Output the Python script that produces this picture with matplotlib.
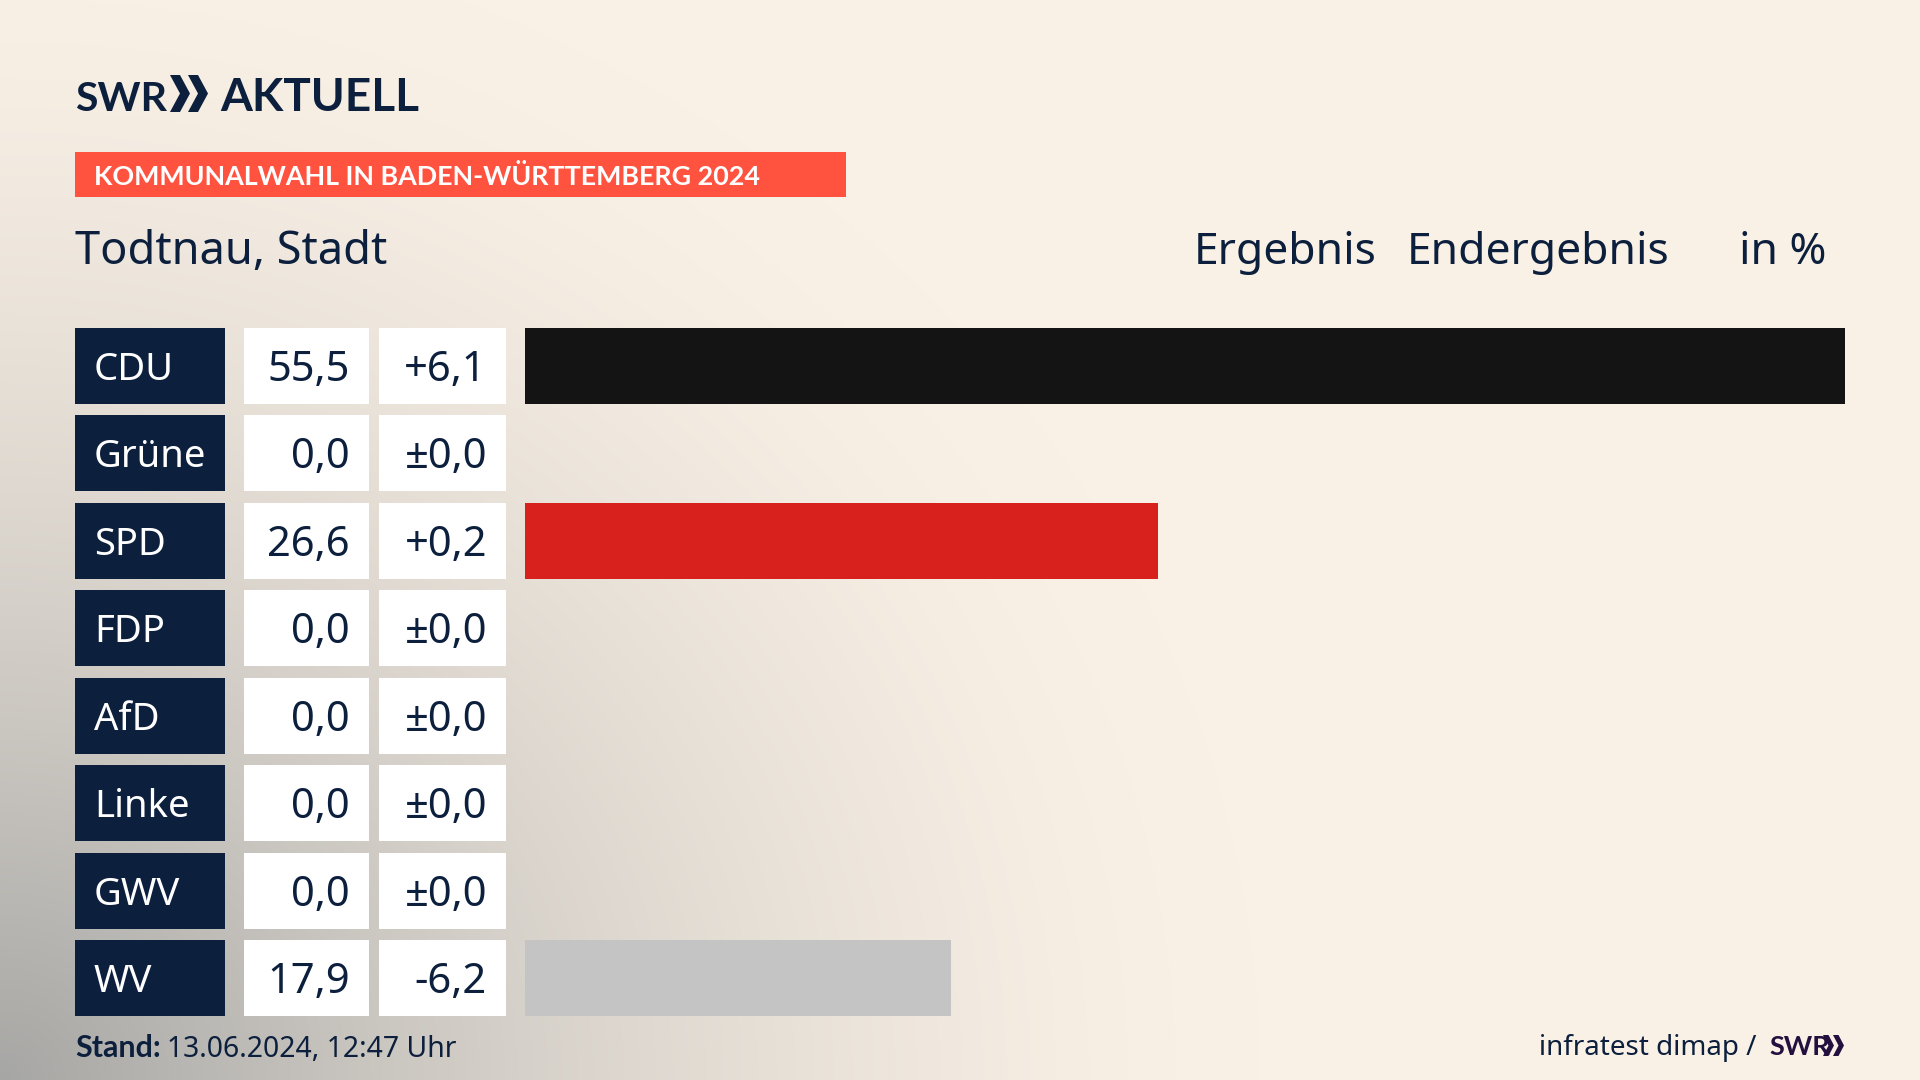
import numpy as np
from matplotlib import pyplot as plt
from matplotlib.patches import Polygon, Rectangle

parties = ["CDU", "Grüne", "SPD", "FDP", "AfD", "Linke", "GWV", "WV"]
results = [55.5, 0.0, 26.6, 0.0, 0.0, 0.0, 0.0, 17.9]
changes = [6.1, 0.0, 0.2, 0.0, 0.0, 0.0, 0.0, -6.2]
bar_colors = ["#141414", "#1E7A32", "#D8201C", "#F5C400", "#1C9ADB", "#C0246E", "#8A8A8A", "#C4C4C4"]

NAVY = "#0C1F3D"
ROW_TOP = 328
ROW_H = 76
ROW_PITCH = 87.43
FONT = ["Noto Sans", "DejaVu Sans"]
BOLD = ["Lato", "DejaVu Sans"]


def fmt_result(v):
    return f"{v:.1f}".replace(".", ",")


def fmt_change(v):
    if v == 0:
        return "±0,0"
    return f"{v:+.1f}".replace(".", ",")


def background():
    y, x = np.mgrid[0:1080, 0:1920]
    d = np.sqrt((x / 1260) ** 2 + ((1080 - y) / 1160) ** 2)
    t = np.clip(1 - d, 0, 1) ** 1.55
    cream = np.array([250, 241, 230])
    gray = np.array([166, 166, 164])
    return (cream + (gray - cream) * t[..., None]) / 255


def chevrons(ax, x, top, bottom, width, gap, color):
    mid = (top + bottom) / 2
    thick = width * 0.5
    for i in range(2):
        x0 = x + i * gap
        ax.add_patch(Polygon([(x0, top), (x0 + thick, top), (x0 + width, mid),
                              (x0 + thick, bottom), (x0, bottom), (x0 + width - thick, mid)],
                             closed=True, fc=color, ec="none"))


fig = plt.figure(figsize=(19.2, 10.8), dpi=100)

ax = fig.add_axes([0, 0, 1, 1])
ax.imshow(background(), extent=(0, 1920, 1080, 0), aspect="auto", zorder=0)
ax.set_xlim(0, 1920)
ax.set_ylim(1080, 0)
ax.axis("off")

# logo
ax.text(75, 111, "SWR", family=BOLD, weight="bold", fontsize=29.5, color=NAVY, va="baseline")
chevrons(ax, 170, 75, 112, 20, 18, NAVY)
ax.text(220, 111, "AKTUELL", family=BOLD, weight="bold", fontsize=33, color=NAVY, va="baseline")

# banner
ax.add_patch(Rectangle((75, 152), 771, 45, fc="#FF5340", ec="none"))
ax.text(94, 185, "KOMMUNALWAHL IN BADEN-WÜRTTEMBERG 2024", family=BOLD, weight="bold",
        fontsize=19.4, color="white", va="baseline")

# header
ax.text(75, 264, "Todtnau, Stadt", family=FONT, fontsize=32.5, color=NAVY, va="baseline")
ax.text(1194, 264, "Ergebnis", family=FONT, fontsize=32, color=NAVY, va="baseline")
ax.text(1407, 264, "Endergebnis", family=FONT, fontsize=32, color=NAVY, va="baseline")
ax.text(1739, 264, "in %", family=FONT, fontsize=32, color=NAVY, va="baseline")

# table cells
for i, party in enumerate(parties):
    top = ROW_TOP + i * ROW_PITCH
    ax.add_patch(Rectangle((75, top), 150, ROW_H, fc=NAVY, ec="none"))
    ax.add_patch(Rectangle((243.5, top), 125.5, ROW_H, fc="white", ec="none"))
    ax.add_patch(Rectangle((379, top), 127, ROW_H, fc="white", ec="none"))
    base = top + 53
    ax.text(94, base - 1, party, family=FONT, fontsize=27.5, color="white", va="baseline")
    ax.text(350, base, fmt_result(results[i]), family=FONT, fontsize=30, color=NAVY,
            ha="right", va="baseline")
    ax.text(487, base, fmt_change(changes[i]), family=FONT, fontsize=30, color=NAVY,
            ha="right", va="baseline")

# footer
ax.text(75, 1057, "Stand:", family=BOLD, weight="bold", fontsize=22, color=NAVY, va="baseline")
ax.text(167, 1057, "13.06.2024, 12:47 Uhr", family=FONT, fontsize=20.4, color=NAVY, va="baseline")
ax.text(1539, 1055, "infratest dimap /", family=FONT, fontsize=20, color=NAVY, va="baseline")
ax.text(1769, 1055, "SWR", family=BOLD, weight="bold", fontsize=19.5, color="#24103F", va="baseline")
chevrons(ax, 1823, 1035, 1056, 11, 10, "#24103F")

# bars, 55.5 fills the full width
ax_bars = fig.add_axes([525 / 1920, 1 - 1016 / 1080, 1320 / 1920, 688 / 1080])
ax_bars.barh(range(len(parties)), results, height=ROW_H / ROW_PITCH, color=bar_colors)
half = ROW_H / ROW_PITCH / 2
ax_bars.set_xlim(0, 55.5)
ax_bars.set_ylim(len(parties) - 1 + half, -half)
ax_bars.axis("off")

fig.savefig("out.png", dpi=100)
